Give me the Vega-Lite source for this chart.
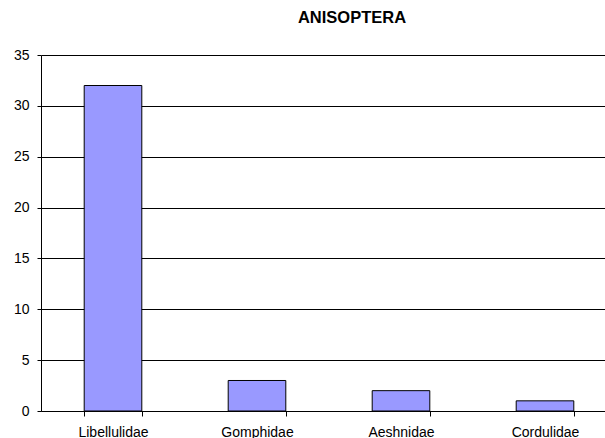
{
  "$schema": "https://vega.github.io/schema/vega-lite/v6.json",
  "autosize": {"type": "none"},
  "padding": {"left": 41, "top": 55, "right": 0, "bottom": 27},
  "width": 576,
  "height": 356,
  "background": "white",
  "title": {
    "text": "ANISOPTERA",
    "font": "Liberation Sans",
    "fontSize": 16.5,
    "fontWeight": "bold",
    "color": "black",
    "anchor": "middle",
    "dx": 23,
    "offset": 22
  },
  "data": {
    "values": [
      {"family": "Libellulidae", "count": 32},
      {"family": "Gomphidae", "count": 3},
      {"family": "Aeshnidae", "count": 2},
      {"family": "Cordulidae", "count": 1}
    ]
  },
  "mark": {"type": "bar", "fill": "#9999FF", "stroke": "black", "strokeWidth": 1},
  "encoding": {
    "x": {
      "field": "family",
      "type": "nominal",
      "sort": null,
      "title": null,
      "scale": {"paddingInner": 0.6, "paddingOuter": 0.3},
      "axis": {
        "labelAngle": 0,
        "labelFont": "Liberation Sans",
        "labelFontSize": 14,
        "labelColor": "black",
        "labelPadding": 9,
        "tickBand": "extent",
        "tickSize": 5,
        "tickColor": "black",
        "domainColor": "black",
        "grid": false
      }
    },
    "y": {
      "field": "count",
      "type": "quantitative",
      "title": null,
      "scale": {"domain": [0, 35]},
      "axis": {
        "values": [0, 5, 10, 15, 20, 25, 30, 35],
        "labelFont": "Liberation Sans",
        "labelFontSize": 14,
        "labelColor": "black",
        "labelPadding": 8,
        "tickSize": 4,
        "tickColor": "black",
        "domainColor": "black",
        "grid": true,
        "gridColor": "black",
        "gridOpacity": 1
      }
    }
  },
  "config": {"view": {"stroke": null}}
}
